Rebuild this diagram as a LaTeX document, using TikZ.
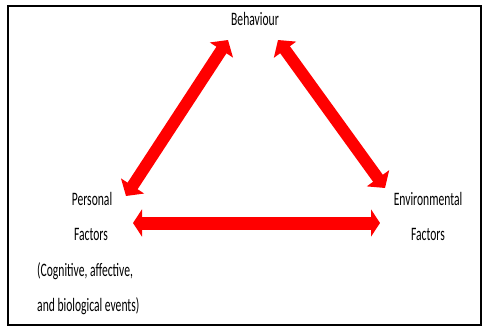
\documentclass[tikz,border=0pt]{standalone}
\usepackage{fontspec}
\setmainfont{Carlito}
\usetikzlibrary{arrows.meta}
\definecolor{arrred}{RGB}{255,0,0}
\newcommand{\sqz}[1]{\scalebox{0.61}[1]{#1}}
\tikzset{
  lbl/.style={inner sep=0pt, text=black, font=\fontsize{19}{22}\selectfont},
  diagarrow/.style={draw=arrred, line width=12pt,
    {Triangle[width=27pt,length=12pt]}-{Triangle[width=27pt,length=12pt]}},
  horarrow/.style={draw=arrred, line width=13pt,
    {Triangle[width=27pt,length=9pt]}-{Triangle[width=27pt,length=9pt]}},
  frame/.style={draw=black, line width=1.6pt}
}
\begin{document}
\begin{tikzpicture}[x=1pt,y=-1pt]
\useasboundingbox (0,0) rectangle (482,326);
\draw[frame] (8,6) rectangle (481,325);
\node[lbl] (beh) at (255,19) {\sqz{Behaviour}};
\node[lbl] (pers) at (92,199) {\sqz{Personal}};
\node[lbl] (pfac) at (91,234) {\sqz{Factors}};
\node[lbl, anchor=west] (cog) at (37,271) {\sqz{(Cognitive, affective,}};
\node[lbl, anchor=west] (bio) at (37,306) {\sqz{and biological events)}};
\node[lbl] (env) at (428,199) {\sqz{Environmental}};
\node[lbl] (efac) at (428,234) {\sqz{Factors}};
\coordinate (bl) at (228,40);
\coordinate (br) at (278,40);
\coordinate (pt) at (126,196);
\coordinate (et) at (385,188);
\coordinate (ph) at (133,223);
\coordinate (eh) at (380,223);
\draw[diagarrow] (pt) -- (bl);
\draw[diagarrow] (br) -- (et);
\draw[horarrow] (ph) -- (eh);
\end{tikzpicture}
\end{document}
